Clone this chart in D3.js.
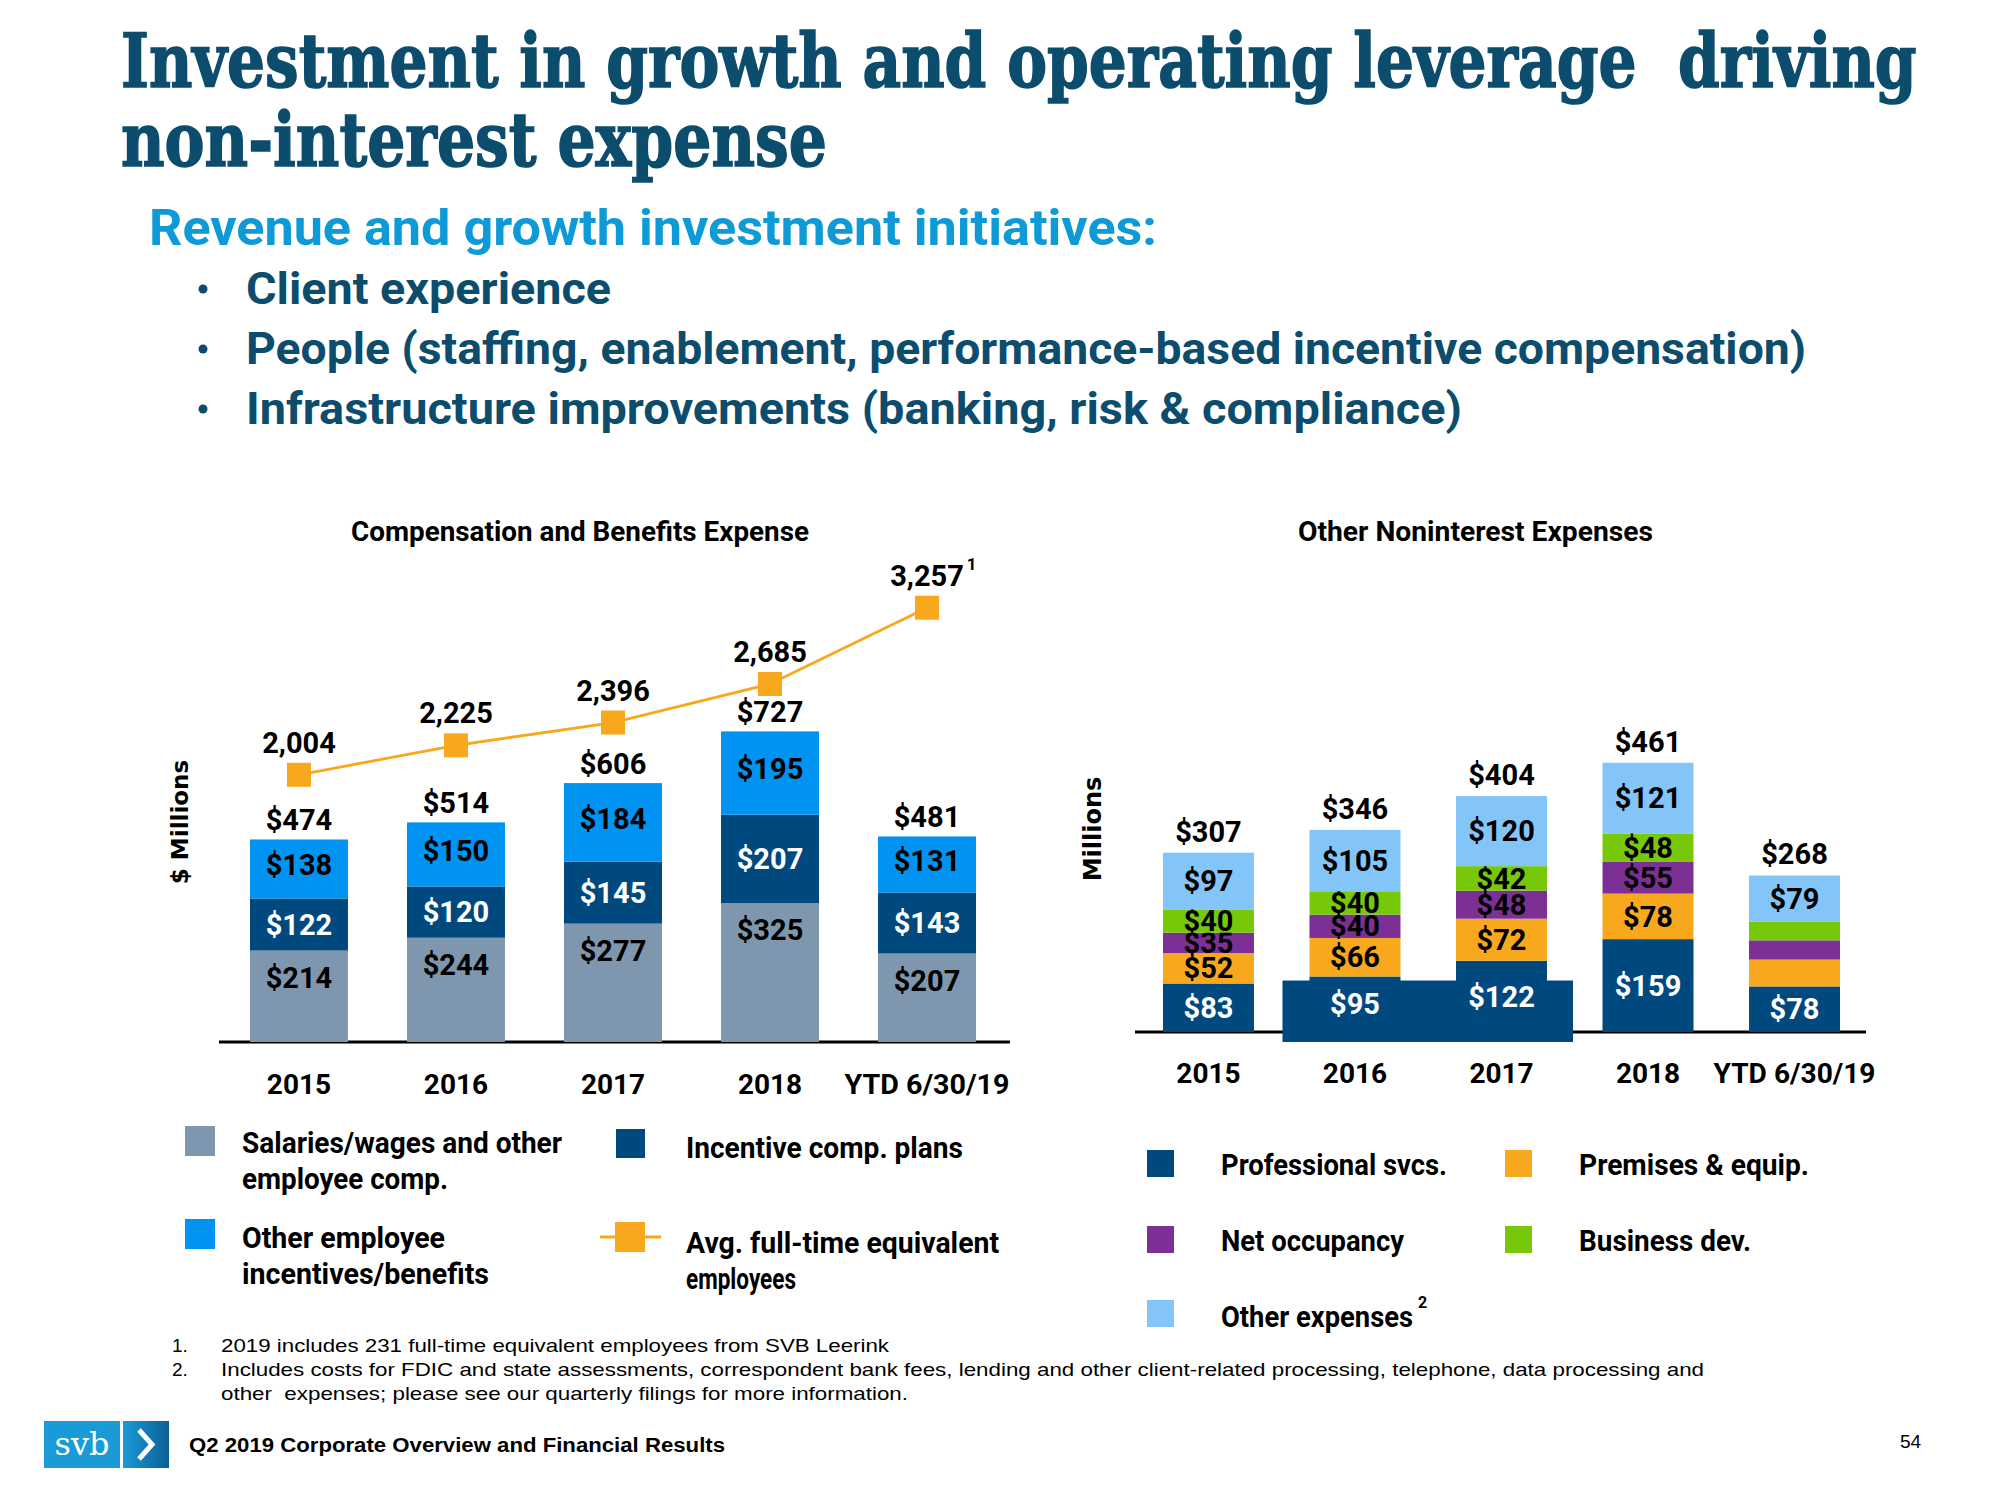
<!DOCTYPE html>
<html><head><meta charset="utf-8">
<script src="https://cdn.jsdelivr.net/npm/d3@7"></script>
<style>
html,body{margin:0;padding:0;background:#fff;}
svg{display:block;}
</style></head><body>
<svg id="c" width="2000" height="1500" font-family="Roboto, 'Open Sans', sans-serif"></svg>
<script>
// ---------- DATA ----------
const categories = ["2015", "2016", "2017", "2018", "YTD 6/30/19"];
// Compensation and Benefits Expense ($M)
const salaries = [214, 244, 277, 325, 207];
const incentivePlans = [122, 120, 145, 207, 143];
const otherBenefits = [138, 150, 184, 195, 131];
const compTotals = [474, 514, 606, 727, 481];
// Avg. full-time equivalent employees
const fteEmployees = [2004, 2225, 2396, 2685, 3257];
const fteLabels = ["2,004", "2,225", "2,396", "2,685", "3,257"];
// Other Noninterest Expenses ($M)
const professional = [83, 95, 122, 159, 78];
const premises = [52, 66, 72, 78, 46];
const occupancy = [35, 40, 48, 55, 33];
const businessDev = [40, 40, 42, 48, 32];
const otherExpenses = [97, 105, 120, 121, 79];
const otherTotals = [307, 346, 404, 461, 268];
// which segment values are printed (YTD middle segments are unlabeled)
const premisesShown = [true, true, true, true, false];
const occupancyShown = [true, true, true, true, false];
const businessDevShown = [true, true, true, true, false];

// ---------- SETUP ----------
const svg = d3.select("#c");
const NAVY_T = "#0c4c6d";
const SANS = "Roboto, 'Open Sans', sans-serif";
const C = {
  salaries: "#7f97ae", incentive: "#00497e", otherBen: "#0093f2", fte: "#f8a81d",
  professional: "#00497e", premises: "#f8a81d", occupancy: "#7c3096", bizdev: "#78c80a", otherExp: "#84c5f9"
};
function fit(sel, w) { sel.attr("textLength", w).attr("lengthAdjust", "spacingAndGlyphs"); return sel; }
// horizontal scaling via transform (keeps the real bounding box)
function scaleFit(x, y, w, build) {
  const g = svg.append("g");
  const t = build(g.append("text"));
  const nat = t.node().getComputedTextLength();
  g.attr("transform", `translate(${x},${y}) scale(${w / nat},1)`);
  return t;
}
const money = v => "$" + v;

// ---------- HEADER ----------
scaleFit(121, 87, 1796, t => t.attr("xml:space", "preserve").style("white-space", "pre")
  .attr("font-family", "'DejaVu Serif', serif").attr("font-weight", "bold").attr("font-size", 74)
  .attr("fill", NAVY_T).attr("stroke", NAVY_T).attr("stroke-width", 1.6)
  .text("Investment in growth and operating leverage  driving"));
scaleFit(121, 166, 706, t => t
  .attr("font-family", "'DejaVu Serif', serif").attr("font-weight", "bold").attr("font-size", 74)
  .attr("fill", NAVY_T).attr("stroke", NAVY_T).attr("stroke-width", 1.6)
  .text("non-interest expense"));
fit(svg.append("text").attr("x", 149).attr("y", 245).attr("font-weight", "bold").attr("font-size", 50).attr("fill", "#0e9ad7")
  .text("Revenue and growth investment initiatives:"), 1008);
const bullets = [
  ["Client experience", 304, 365],
  ["People (staffing, enablement, performance-based incentive compensation)", 364, 1560],
  ["Infrastructure improvements (banking, risk & compliance)", 424, 1216]
];
bullets.forEach(([t, y, w]) => {
  svg.append("circle").attr("cx", 203).attr("cy", y - 15).attr("r", 4.5).attr("fill", NAVY_T);
  fit(svg.append("text").attr("x", 246).attr("y", y).attr("font-weight", "bold").attr("font-size", 44).attr("fill", NAVY_T).text(t), w);
});

// ---------- LEFT CHART ----------
const xL = d3.scaleBand().domain(categories).range([220, 1006]).paddingInner(0.376).paddingOuter(0.191);
const yL = d3.scaleLinear().domain([0, 1100]).range([1042, 572]);
const yF = d3.scaleLinear().domain([0, 3525]).range([1042, 572]);
const bwL = xL.bandwidth();

fit(svg.append("text").attr("x", 351).attr("y", 541).attr("font-weight", "bold").attr("font-size", 27).text("Compensation and Benefits Expense"), 458);

const compRows = categories.map((c, i) => ({ cat: c, salaries: salaries[i], incentive: incentivePlans[i], other: otherBenefits[i] }));
const compStack = d3.stack().keys(["salaries", "incentive", "other"])(compRows);
const compStyle = {
  salaries: { fill: C.salaries, text: "#000" },
  incentive: { fill: C.incentive, text: "#fff" },
  other: { fill: C.otherBen, text: "#000" }
};

const gL = svg.append("g");
const axL = gL.append("g").attr("transform", "translate(0,1042)")
  .call(d3.axisBottom(xL).tickSize(0).tickSizeOuter(0).tickPadding(32));
axL.attr("font-family", SANS);
axL.select(".domain").attr("stroke", "#000").attr("stroke-width", 3).attr("d", "M219,0H1010");
axL.selectAll("text").attr("font-size", 28).attr("font-weight", "bold").attr("fill", "#000");
fit(axL.selectAll("text").filter(d => d === "YTD 6/30/19"), 165);

categories.forEach((cat, i) => {
  const g = gL.append("g");
  compStack.forEach(layer => {
    const d = layer[i];
    const st = compStyle[layer.key];
    const top = yL(d[1]), bot = yL(d[0]);
    g.append("rect").attr("x", xL(cat)).attr("width", bwL).attr("y", top).attr("height", bot - top).attr("fill", st.fill);
    const cy = layer.key === "salaries" ? top + 27 : (layer.key === "other" ? (top + bot) / 2 - 4 : (top + bot) / 2);
    g.append("text").attr("x", xL(cat) + bwL / 2).attr("y", cy).attr("dy", "0.35em").attr("text-anchor", "middle")
      .attr("font-size", 29).attr("font-weight", "bold").attr("fill", st.text).text(money(d[1] - d[0]));
  });
  const total = d3.sum(compStack, l => l[i][1] - l[i][0]);
  g.append("text").attr("x", xL(cat) + bwL / 2).attr("y", yL(total) - 9).attr("text-anchor", "middle")
    .attr("font-size", 29).attr("font-weight", "bold").attr("fill", "#000").text(money(compTotals[i]));
});

// FTE line
const lineGen = d3.line().x((d, i) => xL(categories[i]) + bwL / 2).y(d => yF(d));
gL.append("path").datum(fteEmployees).attr("d", lineGen).attr("fill", "none").attr("stroke", C.fte).attr("stroke-width", 2.8);
gL.selectAll("rect.fte").data(fteEmployees).join("rect").attr("class", "fte")
  .attr("x", (d, i) => xL(categories[i]) + bwL / 2 - 12).attr("y", d => yF(d) - 12).attr("width", 24).attr("height", 24).attr("fill", C.fte);
gL.selectAll("text.fte").data(fteEmployees).join("text").attr("class", "fte")
  .attr("x", (d, i) => xL(categories[i]) + bwL / 2).attr("y", d => yF(d) - 22).attr("text-anchor", "middle")
  .attr("font-size", 29).attr("font-weight", "bold").attr("fill", "#000").text((d, i) => fteLabels[i])
  .each(function (d, i) {
    if (i === fteEmployees.length - 1) {
      const w = this.getComputedTextLength();
      gL.append("text").attr("x", xL(categories[i]) + bwL / 2 + w / 2 + 3).attr("y", yF(d) - 38)
        .attr("font-size", 17).attr("font-weight", "bold").text("1");
    }
  });

// y label
svg.append("text").attr("transform", "translate(180,822) rotate(-90)").attr("text-anchor", "middle").attr("dy", "0.35em")
  .attr("font-family", "'DejaVu Sans', sans-serif").attr("font-weight", "bold").attr("font-size", 23).text("$ Millions");

// left legend
function legendSquare(x, y, s, color) { svg.append("rect").attr("x", x).attr("y", y).attr("width", s).attr("height", s).attr("fill", color); }
function legendText(x, y, lines) {
  lines.forEach(([t, w], k) => fit(svg.append("text").attr("x", x).attr("y", y + k * 36).attr("font-size", 30).attr("font-weight", "bold").attr("fill", "#000").text(t), w));
}
legendSquare(185, 1126, 30, C.salaries);
legendText(242, 1153, [["Salaries/wages and other", 320], ["employee comp.", 206]]);
legendSquare(616, 1129, 29, C.incentive);
legendText(686, 1158, [["Incentive comp. plans", 277]]);
legendSquare(185, 1219, 30, C.otherBen);
legendText(242, 1248, [["Other employee", 203], ["incentives/benefits", 247]]);
svg.append("line").attr("x1", 600).attr("x2", 661).attr("y1", 1237).attr("y2", 1237).attr("stroke", C.fte).attr("stroke-width", 2.8);
legendSquare(615, 1222, 30, C.fte);
legendText(686, 1253, [["Avg. full-time equivalent", 313], ["employees", 110]]);

// ---------- RIGHT CHART ----------
const xR = d3.scaleBand().domain(categories).range([1135, 1868]).paddingInner(0.379).paddingOuter(0.191);
const yR = d3.scaleLinear().domain([0, 500]).range([1032, 740]);
const bwR = xR.bandwidth();

fit(svg.append("text").attr("x", 1298).attr("y", 541).attr("font-weight", "bold").attr("font-size", 27).text("Other Noninterest Expenses"), 355);

const otherRows = categories.map((c, i) => ({ cat: c, professional: professional[i], premises: premises[i], occupancy: occupancy[i], bizdev: businessDev[i], otherExp: otherExpenses[i] }));
const otherStack = d3.stack().keys(["professional", "premises", "occupancy", "bizdev", "otherExp"])(otherRows);
const otherStyle = {
  professional: { fill: C.professional, text: "#fff", shown: categories.map(() => true) },
  premises: { fill: C.premises, text: "#000", shown: premisesShown },
  occupancy: { fill: C.occupancy, text: "#000", shown: occupancyShown },
  bizdev: { fill: C.bizdev, text: "#000", shown: businessDevShown },
  otherExp: { fill: C.otherExp, text: "#000", shown: categories.map(() => true) }
};

const gR = svg.append("g");
const axR = gR.append("g").attr("transform", "translate(0,1032)")
  .call(d3.axisBottom(xR).tickSize(0).tickSizeOuter(0).tickPadding(31));
axR.attr("font-family", SANS);
axR.select(".domain").attr("stroke", "#000").attr("stroke-width", 3).attr("d", "M1135,0H1866");
axR.selectAll("text").attr("font-size", 28).attr("font-weight", "bold").attr("fill", "#000");
fit(axR.selectAll("text").filter(d => d === "YTD 6/30/19"), 162);

// slide artifact: navy block over the 2016/2017 base
gR.append("rect").attr("x", xR("2016") - 27).attr("y", yR(professional[1]) + 4)
  .attr("width", xR("2017") + bwR + 26 - (xR("2016") - 27)).attr("height", 1042 - (yR(professional[1]) + 4))
  .attr("fill", C.professional);

categories.forEach((cat, i) => {
  const g = gR.append("g");
  otherStack.forEach(layer => {
    const d = layer[i];
    const st = otherStyle[layer.key];
    const top = yR(d[1]), bot = yR(d[0]);
    g.append("rect").attr("x", xR(cat)).attr("width", bwR).attr("y", top).attr("height", bot - top).attr("fill", st.fill);
    if (st.shown[i]) {
      g.append("text").attr("x", xR(cat) + bwR / 2).attr("y", (top + bot) / 2).attr("dy", "0.35em").attr("text-anchor", "middle")
        .attr("font-size", 29).attr("font-weight", "bold").attr("fill", st.text).text(money(d[1] - d[0]));
    }
  });
  const total = d3.sum(otherStack, l => l[i][1] - l[i][0]);
  g.append("text").attr("x", xR(cat) + bwR / 2).attr("y", yR(total) - 11).attr("text-anchor", "middle")
    .attr("font-size", 29).attr("font-weight", "bold").attr("fill", "#000").text(money(otherTotals[i]));
});

svg.append("text").attr("transform", "translate(1093,829) rotate(-90)").attr("text-anchor", "middle").attr("dy", "0.35em")
  .attr("font-family", "'DejaVu Sans', sans-serif").attr("font-weight", "bold").attr("font-size", 24).text("Millions");

// right legend
legendSquare(1147, 1150, 27, C.professional);
legendText(1221, 1175, [["Professional svcs.", 226]]);
legendSquare(1505, 1150, 27, C.premises);
legendText(1579, 1175, [["Premises & equip.", 230]]);
legendSquare(1147, 1226, 27, C.occupancy);
legendText(1221, 1251, [["Net occupancy", 183]]);
legendSquare(1505, 1226, 27, C.bizdev);
legendText(1579, 1251, [["Business dev.", 172]]);
legendSquare(1147, 1300, 27, C.otherExp);
legendText(1221, 1327, [["Other expenses", 192]]);
svg.append("text").attr("x", 1418).attr("y", 1308).attr("font-size", 16).attr("font-weight", "bold").text("2");

// ---------- FOOTNOTES & FOOTER ----------
const fnFont = "'Liberation Sans', Arial, sans-serif";
[["1.", 1352], ["2.", 1376]].forEach(([t, y]) =>
  svg.append("text").attr("x", 172).attr("y", y).attr("font-family", fnFont).attr("font-size", 19).text(t));
[["2019 includes 231 full-time equivalent employees from SVB Leerink", 1352, 668],
 ["Includes costs for FDIC and state assessments, correspondent bank fees, lending and other client-related processing, telephone, data processing and", 1376, 1483],
 ["other  expenses; please see our quarterly filings for more information.", 1400, 687]].forEach(([t, y, w]) =>
  fit(svg.append("text").attr("x", 221).attr("y", y).attr("font-family", fnFont).attr("font-size", 19)
    .attr("xml:space", "preserve").style("white-space", "pre").text(t), w));

// logo
const defs = svg.append("defs");
const grad = defs.append("linearGradient").attr("id", "chev").attr("x1", 0).attr("x2", 1).attr("y1", 0).attr("y2", 0);
grad.append("stop").attr("offset", "0%").attr("stop-color", "#1a9ad6");
grad.append("stop").attr("offset", "100%").attr("stop-color", "#0b5f95");
svg.append("rect").attr("x", 44).attr("y", 1421).attr("width", 76).attr("height", 47).attr("fill", "#1a9ad6");
svg.append("rect").attr("x", 123).attr("y", 1421).attr("width", 46).attr("height", 47).attr("fill", "url(#chev)");
svg.append("text").attr("x", 82).attr("y", 1455).attr("text-anchor", "middle").attr("font-family", "'DejaVu Serif', serif")
  .attr("font-size", 32).attr("fill", "#fff").text("svb");
svg.append("polyline").attr("points", "139,1430 152,1444.5 139,1459").attr("fill", "none").attr("stroke", "#fff").attr("stroke-width", 5);
fit(svg.append("text").attr("x", 189).attr("y", 1452).attr("font-family", fnFont).attr("font-weight", "bold").attr("font-size", 20)
  .text("Q2 2019 Corporate Overview and Financial Results"), 536);
svg.append("text").attr("x", 1900).attr("y", 1448).attr("font-family", fnFont).attr("font-size", 19).text("54");
</script>
</body></html>
